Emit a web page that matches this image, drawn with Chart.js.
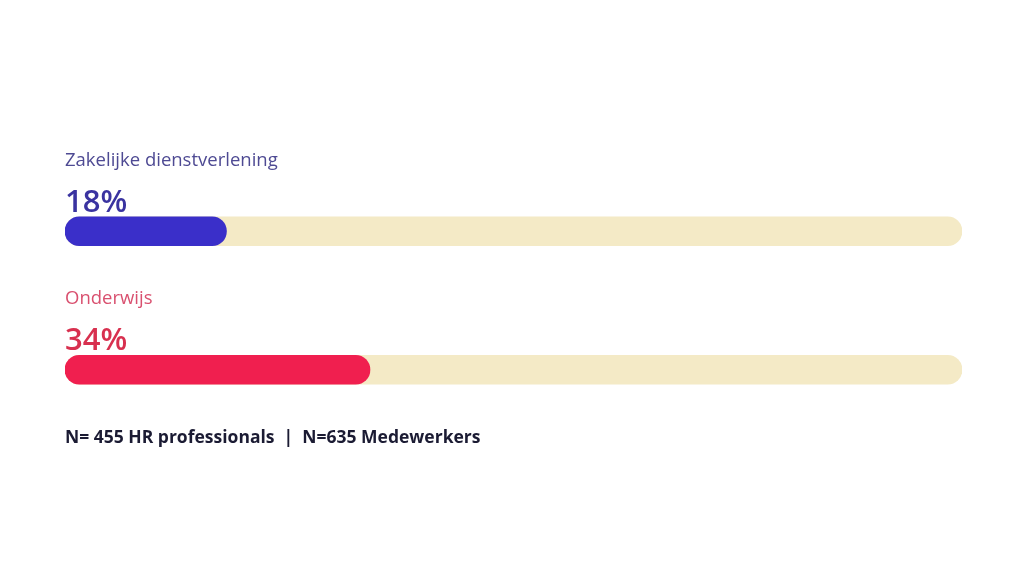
<!DOCTYPE html>
<html>
<head>
<meta charset="utf-8">
<script src="https://cdn.jsdelivr.net/npm/chart.js@4.4.0/dist/chart.umd.min.js"></script>
<style>
  html, body { margin: 0; padding: 0; background: #fff; }
  #wrap { width: 1030px; height: 580px; }
</style>
</head>
<body>
<div id="wrap"><canvas id="grafiek" width="1030" height="580"></canvas></div>
<script>
// data
const categorieen = ['Zakelijke dienstverlening', 'Onderwijs'];
const percentages = [18, 34];
const trackWaarden = [100, 100];
const voetnoot = 'N= 455 HR professionals  |  N=635 Medewerkers';

const kleurBalk = ['#3a2fc9', '#f01f4f'];
const kleurLabel = ['#4e4a93', '#d9506f'];
const kleurPct = ['#3a33a0', '#d8304f'];

// tekst boven de balken + voetnoot
const labelsPlugin = {
  id: 'labels',
  afterDatasetsDraw(chart) {
    const ctx = chart.ctx;
    const meta = chart.getDatasetMeta(1);
    const links = chart.chartArea.left;
    ctx.save();
    ctx.textAlign = 'left';
    ctx.textBaseline = 'alphabetic';
    meta.data.forEach((bar, i) => {
      const top = bar.y - bar.height / 2;
      ctx.fillStyle = kleurPct[i];
      ctx.font = '600 31px "Open Sans", sans-serif';
      ctx.fillText(percentages[i] + '%', links, top - 5);
      ctx.fillStyle = kleurLabel[i];
      ctx.font = '400 18.5px "Open Sans", sans-serif';
      ctx.fillText(categorieen[i], links, top - 51);
    });
    ctx.fillStyle = '#1b1b33';
    ctx.font = '700 17.5px "Open Sans", sans-serif';
    const laatste = meta.data[meta.data.length - 1];
    ctx.fillText(voetnoot, links, laatste.y + laatste.height / 2 + 59);
    ctx.restore();
  }
};

new Chart(document.getElementById('grafiek').getContext('2d'), {
  type: 'bar',
  data: {
    labels: categorieen,
    datasets: [
      {
        data: trackWaarden,
        backgroundColor: '#f4eac6',
        borderRadius: 15,
        borderSkipped: false,
        barThickness: 29,
        grouped: false,
        order: 2
      },
      {
        data: percentages,
        backgroundColor: kleurBalk,
        borderRadius: 15,
        borderSkipped: false,
        barThickness: 29,
        grouped: false,
        order: 1
      }
    ]
  },
  options: {
    indexAxis: 'y',
    responsive: false,
    animation: false,
    layout: { padding: { left: 65, right: 68, top: 162, bottom: 141 } },
    scales: {
      x: { display: false, min: 0, max: 100 },
      y: { display: false }
    },
    plugins: {
      legend: { display: false },
      tooltip: { enabled: false }
    }
  },
  plugins: [labelsPlugin]
});
</script>
</body>
</html>
